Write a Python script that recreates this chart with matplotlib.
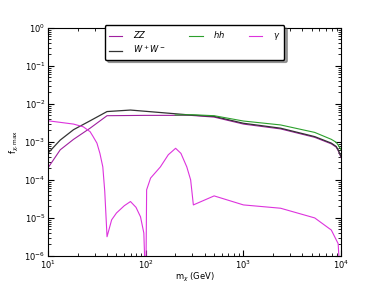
import matplotlib
matplotlib.use("Agg")
import matplotlib.pyplot as plt

# datos
m_ww = [10, 13.3, 18.2, 26.9, 40.1, 69.7, 288, 501, 1000, 2400, 5370, 7940, 8900, 9330, 10000]
f_ww = [5.1e-4, 1.12e-3, 2.1e-3, 3.6e-3, 6.3e-3, 6.9e-3, 5.1e-3, 4.7e-3, 3.1e-3, 2.3e-3,
        1.38e-3, 9.3e-4, 7.6e-4, 6.2e-4, 4.1e-4]

m_zz = [10, 13.3, 18.2, 26.9, 40.1, 100, 288, 501, 1000, 2400, 5370, 7940, 8900, 9330, 10000]
f_zz = [2.1e-4, 6.2e-4, 1.17e-3, 2.3e-3, 4.9e-3, 5.0e-3, 5.0e-3, 4.5e-3, 2.95e-3, 2.2e-3,
        1.32e-3, 8.9e-4, 7.3e-4, 5.9e-4, 3.9e-4]

m_hh = [200, 300, 501, 1000, 2400, 5370, 7940, 8900, 9330, 10000]
f_hh = [5.1e-3, 5.2e-3, 4.9e-3, 3.55e-3, 2.8e-3, 1.78e-3, 1.17e-3, 9.8e-4, 8.3e-4, 6.2e-4]

m_gam = [10, 18.2, 22.9, 26.9, 28.8, 31.6, 33.9, 36.3, 38.0, 40.1, 44.7, 50.1, 60.3, 69.7,
         79.4, 88.3, 95.5, 100, 102, 112, 141, 170, 202, 229, 263, 288, 307, 501, 1000,
         2400, 5370, 7940, 9330, 10000]
f_gam = [3.6e-3, 2.95e-3, 2.5e-3, 1.86e-3, 1.4e-3, 9.3e-4, 5.0e-4, 2.2e-4, 5e-5, 3.2e-6,
         8.9e-6, 1.35e-5, 2.1e-5, 2.7e-5, 1.9e-5, 1.07e-5, 4e-6, 1e-7, 5.5e-5, 1.12e-4,
         2.2e-4, 4.6e-4, 6.8e-4, 5.0e-4, 2.2e-4, 1.0e-4, 2.2e-5, 3.8e-5, 2.2e-5,
         1.8e-5, 1.0e-5, 4.8e-6, 2.1e-6, 1e-7]

plt.rcParams['font.size'] = 6
plt.rcParams['mathtext.fontset'] = 'dejavusans'

fig = plt.figure(figsize=(3.79, 2.85), dpi=100)
ax = fig.add_axes([0.127, 0.102, 0.773, 0.8])

ax.loglog(m_zz, f_zz, color='#a020a0', lw=0.8, label=r'$ZZ$')
ax.loglog(m_ww, f_ww, color='#333333', lw=0.9, label=r'$W^+W^-$')
ax.loglog(m_hh, f_hh, color='#2ca02c', lw=0.8, label=r'$hh$')
ax.loglog(m_gam, f_gam, color='#dd33dd', lw=0.8, label=r'$\gamma$')

ax.set_xlim(10, 1e4)
ax.set_ylim(1e-6, 1)
ax.set_xlabel(r'm$_\chi$ (GeV)', fontsize=6, labelpad=0)
ax.set_ylabel(r'f$_{\chi,\mathrm{max}}$', fontsize=6, labelpad=2)
ax.tick_params(which='both', direction='in', top=True, right=True, labelsize=6, pad=2)
ax.tick_params(which='major', length=4)
ax.tick_params(which='minor', length=2)

leg = ax.legend(loc='upper center', bbox_to_anchor=(0.5, 1.03), ncol=3, fontsize=6,
                shadow=True, fancybox=True, handlelength=1.6, handletextpad=1.3,
                columnspacing=2.8, labelspacing=0.4, borderpad=0.5)
leg.get_frame().set_edgecolor('black')

fig.savefig('out.png', dpi=100)
